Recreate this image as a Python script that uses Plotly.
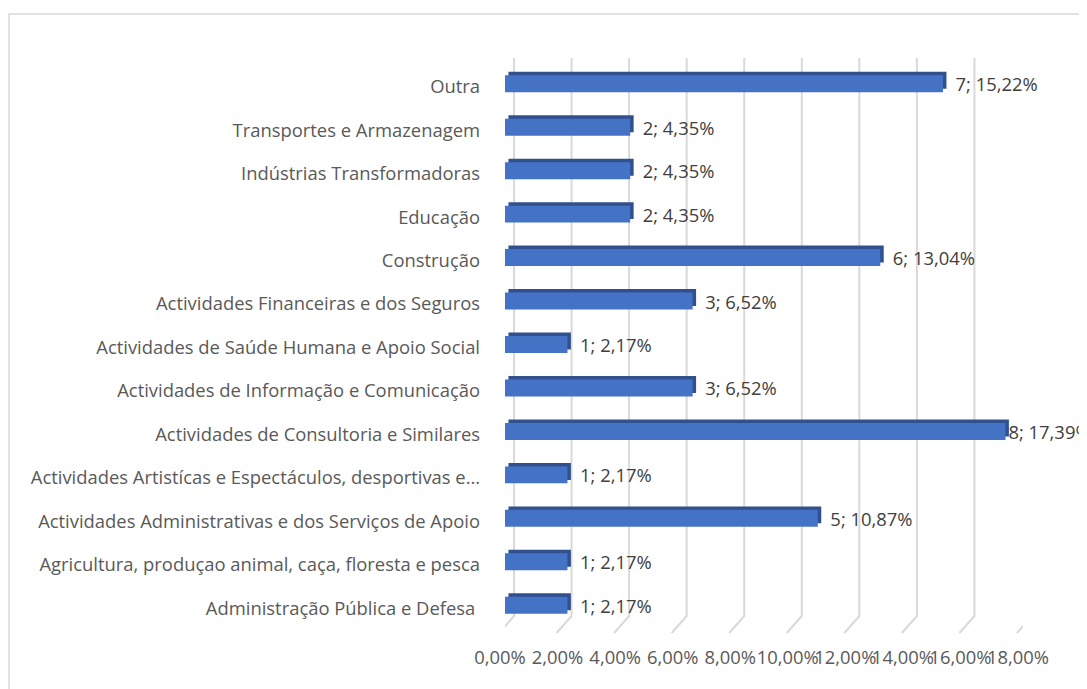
import plotly.graph_objects as go

# categories, bottom to top as in the chart
categories = [
    "Administração Pública e Defesa ",
    "Agricultura, produçao animal, caça, floresta e pesca",
    "Actividades Administrativas e dos Serviços de Apoio",
    "Actividades Artistícas e Espectáculos, desportivas e…",
    "Actividades de Consultoria e Similares",
    "Actividades de Informação e Comunicação",
    "Actividades de Saúde Humana e Apoio Social",
    "Actividades Financeiras e dos Seguros",
    "Construção",
    "Educação",
    "Indústrias Transformadoras",
    "Transportes e Armazenagem",
    "Outra",
]
counts = [1, 1, 5, 1, 8, 3, 1, 3, 6, 2, 2, 2, 7]
shares = [0.0217, 0.0217, 0.1087, 0.0217, 0.1739, 0.0652, 0.0217,
          0.0652, 0.1304, 0.0435, 0.0435, 0.0435, 0.1522]
tick_vals = [0, 0.02, 0.04, 0.06, 0.08, 0.10, 0.12, 0.14, 0.16, 0.18]
tick_text = ["0,00%", "2,00%", "4,00%", "6,00%", "8,00%", "10,00%",
             "12,00%", "14,00%", "16,00%", "18,00%"]

FONT = "Open Sans"
SIZE = 18.4
positions = list(range(len(categories)))
# the longest bar's label sits tight against the bar end, like Excel did
labels = [("" if s > 0.17 else "\u00a0\u00a0") + f"{c}; {s * 100:.2f}%".replace(".", ",")
          for c, s in zip(counts, shares)]

fig = go.Figure()

# darker copy behind, nudged up/right -> top and side faces of the 3D bars
fig.add_trace(
    go.Bar(
        x=shares,
        y=[p + 0.08 for p in positions],
        base=0.0012,
        orientation="h",
        width=0.39,
        marker=dict(color="#30518E", line=dict(width=0)),
        hoverinfo="skip",
        showlegend=False,
    )
)

fig.add_trace(
    go.Bar(
        x=shares,
        y=positions,
        orientation="h",
        width=0.39,
        marker=dict(color="#4472C4", line=dict(width=0)),
        text=labels,
        textposition="outside",
        constraintext="none",
        textfont=dict(family=FONT, size=SIZE, color="#404040"),
        cliponaxis=False,
        showlegend=False,
    )
)

# back wall gridlines with a slanted floor edge
for v in tick_vals:
    fig.add_shape(
        type="path",
        xref="x", yref="paper",
        xsizemode="pixel", ysizemode="pixel",
        xanchor=v, yanchor=0,
        path="M 9,569 L 9,11 L -6,-6",
        line=dict(color="#D9D9D9", width=2),
        layer="below",
    )

# chart area frame
fig.add_shape(
    type="rect",
    xref="paper", yref="paper",
    xsizemode="pixel", ysizemode="pixel",
    xanchor=0, yanchor=0,
    x0=-496, x1=700, y0=-90, y1=613,
    line=dict(color="#D9D9D9", width=1.5),
    fillcolor="rgba(0,0,0,0)",
    layer="below",
)

fig.update_layout(
    width=1087,
    height=689,
    margin=dict(l=497, r=72, t=54, b=70, autoexpand=False),
    paper_bgcolor="white",
    plot_bgcolor="white",
    barmode="overlay",
    font=dict(family=FONT, size=SIZE, color="#595959"),
    xaxis=dict(
        range=[0, 0.18],
        tickvals=tick_vals,
        ticktext=tick_text,
        tickangle=0,
        showgrid=False,
        zeroline=False,
        showline=False,
        ticks="",
        ticklabelstandoff=18,
        ticklabelshift=-5,
        tickfont=dict(family=FONT, size=SIZE, color="#595959"),
        fixedrange=True,
    ),
    yaxis=dict(
        range=[-0.5, len(categories) - 0.5],
        tickvals=positions,
        ticktext=categories,
        showgrid=False,
        zeroline=False,
        showline=False,
        ticks="",
        ticklabelstandoff=24,
        ticklabelshift=3,
        tickfont=dict(family=FONT, size=SIZE, color="#595959"),
        fixedrange=True,
    ),
)

fig.write_html("out.html")
